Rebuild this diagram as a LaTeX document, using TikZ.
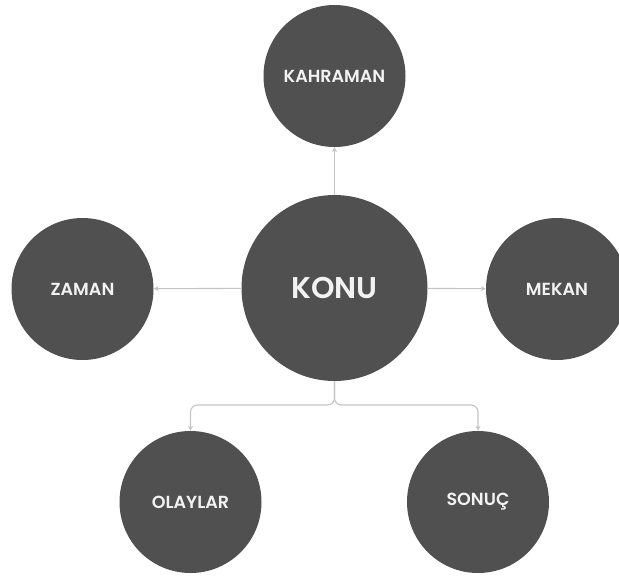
\documentclass[tikz,border=0pt]{standalone}
\usepackage{fontspec}
\setmainfont{Poppins}
\newfontfamily\labelfont{Poppins}[UprightFont=* SemiBold]
\usetikzlibrary{arrows.meta}
\definecolor{bubble}{HTML}{505050}
\definecolor{link}{HTML}{C4C4C4}
\definecolor{label}{HTML}{F2F2F2}
\begin{document}
\begin{tikzpicture}[x=1pt,y=-1pt,
  bubble/.style={circle,fill=bubble,text=label,inner sep=0pt,
    minimum size=142pt,font=\labelfont\fontsize{17.5}{20}\selectfont},
  hub/.style={bubble,minimum size=186pt,font=\labelfont\fontsize{30}{34}\selectfont},
  link/.style={draw=link,line width=1.1pt,
    -{Stealth[length=5pt,width=5pt]},rounded corners=7pt}]
\useasboundingbox (0,0) rectangle (619,579);
\node[hub]    (konu)     at (334.5,288) {KONU};
\node[bubble] (kahraman) at (334.5,76)  {KAHRAMAN};
\node[bubble] (zaman)    at (82.5,289)  {ZAMAN};
\node[bubble] (mekan)    at (557,289)   {MEKAN};
\node[bubble] (olaylar)  at (190.5,502) {OLAYLAR};
\node[bubble] (sonuc)    at (478,502)   {SONUÇ};
\draw[link] (konu) -- (kahraman);
\draw[link] (konu) -- (zaman);
\draw[link] (konu) -- (mekan);
\coordinate (fork) at (334.5,405);
\draw[link] (konu.south) -- (fork) -| (olaylar.north);
\draw[link] (konu.south) -- (fork) -| (sonuc.north);
\end{tikzpicture}
\end{document}
